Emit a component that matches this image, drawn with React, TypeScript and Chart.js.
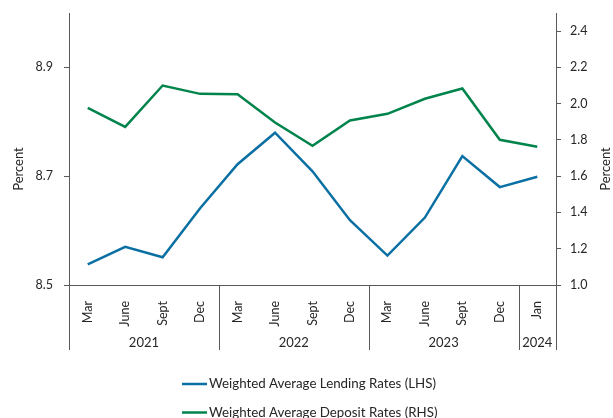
import React, { useEffect, useRef } from "react";
import { Chart, registerables } from "chart.js";

Chart.register(...registerables);

const months = ["Mar", "June", "Sept", "Dec", "Mar", "June", "Sept", "Dec", "Mar", "June", "Sept", "Dec", "Jan"];
const years = ["2021", "2022", "2023", "2024"];
const yearSpans = [4, 4, 4, 1];
const lendingRates = [8.538, 8.570, 8.551, 8.641, 8.722, 8.780, 8.709, 8.619, 8.554, 8.624, 8.737, 8.680, 8.699];
const depositRates = [1.977, 1.872, 2.100, 2.054, 2.052, 1.896, 1.768, 1.907, 1.944, 2.027, 2.084, 1.801, 1.762];
const leftTicks = [8.5, 8.7, 8.9];
const rightTicks = [1.0, 1.2, 1.4, 1.6, 1.8, 2.0, 2.2, 2.4];
const seriesNames = ["Weighted Average Lending Rates (LHS)", "Weighted Average Deposit Rates (RHS)"];
const axisTitle = "Percent";

const BLUE = "#0A70A3";
const GREEN = "#00844C";
const AXIS = "#595959";
const TEXT = "#262626";
const FONT = "Lato";

export default function App() {
  const ref = useRef<HTMLCanvasElement>(null);
  useEffect(() => {
    document.body.style.margin = "0";
    const extras = {
      id: "extras",
      afterDraw(chart: any) {
        const ctx = chart.ctx;
        const x = chart.scales.x;
        const area = chart.chartArea;
        const bottomY = area.bottom + 65;
        ctx.save();
        ctx.strokeStyle = AXIS;
        ctx.lineWidth = 1;
        const lines: number[] = [area.left, area.right];
        let idx = 0;
        const half = (x.getPixelForValue(1) - x.getPixelForValue(0)) / 2;
        yearSpans.forEach((span, i) => {
          const start = x.getPixelForValue(idx) - half;
          const end = x.getPixelForValue(idx + span - 1) + half;
          if (i > 0) lines.push(start);
          ctx.fillStyle = TEXT;
          ctx.font = `13px ${FONT}`;
          ctx.textAlign = "center";
          ctx.textBaseline = "middle";
          ctx.fillText(years[i], (start + end) / 2, area.bottom + 58);
          idx += span;
        });
        lines.forEach((lx) => {
          const px = Math.round(lx) + 0.5;
          ctx.beginPath();
          ctx.moveTo(px, area.bottom);
          ctx.lineTo(px, bottomY);
          ctx.stroke();
        });
        ctx.fillStyle = TEXT;
        ctx.font = `13px ${FONT}`;
        ctx.textAlign = "center";
        ctx.textBaseline = "middle";
        const ty = area.top + 156;
        ctx.save();
        ctx.translate(19, ty);
        ctx.rotate(-Math.PI / 2);
        ctx.fillText(axisTitle, 0, 0);
        ctx.restore();
        ctx.save();
        ctx.translate(606, ty);
        ctx.rotate(-Math.PI / 2);
        ctx.fillText(axisTitle, 0, 0);
        ctx.restore();
        const colors = [BLUE, GREEN];
        const legendY = [384, 412.5];
        ctx.font = `13.3px ${FONT}`;
        seriesNames.forEach((name, i) => {
          ctx.strokeStyle = colors[i];
          ctx.lineWidth = 2.5;
          ctx.beginPath();
          ctx.moveTo(182, legendY[i]);
          ctx.lineTo(207, legendY[i]);
          ctx.stroke();
          ctx.fillStyle = TEXT;
          ctx.textAlign = "left";
          ctx.textBaseline = "middle";
          ctx.fillText(name, 209, legendY[i]);
        });
        ctx.restore();
      },
    };
    const fitY = (w: number) => (s: any) => {
      s.width = w;
      s.paddingTop = 0;
      s.paddingBottom = 0;
    };
    const chart = new Chart(ref.current!, {
      type: "line",
      data: {
        labels: months,
        datasets: [
          {
            label: seriesNames[0],
            data: lendingRates,
            borderColor: BLUE,
            backgroundColor: BLUE,
            borderWidth: 2.5,
            pointRadius: 0,
            tension: 0,
            yAxisID: "y",
          },
          {
            label: seriesNames[1],
            data: depositRates,
            borderColor: GREEN,
            backgroundColor: GREEN,
            borderWidth: 2.5,
            pointRadius: 0,
            tension: 0,
            yAxisID: "y1",
          },
        ],
      },
      options: {
        animation: false,
        responsive: false,
        maintainAspectRatio: false,
        layout: { padding: { top: 13, left: 0, right: 0, bottom: 0 } },
        plugins: { legend: { display: false }, tooltip: { enabled: false } },
        scales: {
          x: {
            offset: true,
            grid: { display: false },
            border: { display: true, color: AXIS, width: 1 },
            ticks: {
              minRotation: 90,
              maxRotation: 90,
              autoSkip: false,
              padding: 8,
              color: TEXT,
              font: { family: FONT, size: 12.5 },
            },
            afterFit: (s: any) => {
              s.height = 133;
              s.paddingLeft = 0;
              s.paddingRight = 0;
            },
          },
          y: {
            position: "left",
            min: 8.5,
            max: 9.0,
            afterBuildTicks: (a: any) => {
              a.ticks = leftTicks.map((v) => ({ value: v }));
            },
            afterFit: fitY(69),
            grid: { drawOnChartArea: false, tickLength: 5, color: AXIS },
            border: { display: true, color: AXIS, width: 1 },
            ticks: {
              padding: 11,
              color: TEXT,
              font: { family: FONT, size: 12.5 },
              callback: (v: any) => Number(v).toFixed(1),
            },
          },
          y1: {
            position: "right",
            min: 1.0,
            max: 2.5,
            afterBuildTicks: (a: any) => {
              a.ticks = rightTicks.map((v) => ({ value: v }));
            },
            afterFit: fitY(57),
            grid: { drawOnChartArea: false, tickLength: 5, color: AXIS },
            border: { display: true, color: AXIS, width: 1 },
            ticks: {
              padding: 9,
              color: TEXT,
              font: { family: FONT, size: 12.5 },
              callback: (v: any) => Number(v).toFixed(1),
            },
          },
        },
      },
      plugins: [extras],
    });
    return () => chart.destroy();
  }, []);
  return (
    <div style={{ position: "absolute", left: 0, top: 0, width: 613, height: 418, background: "#fff" }}>
      <canvas ref={ref} width={613} height={418} style={{ width: 613, height: 418 }} />
    </div>
  );
}
